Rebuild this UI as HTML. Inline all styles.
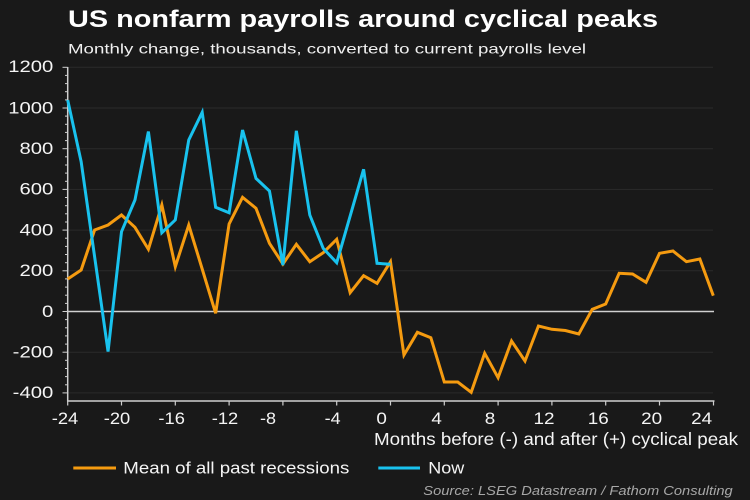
<!DOCTYPE html>
<html>
<head>
<meta charset="utf-8">
<style>
  html, body { margin:0; padding:0; background:#191919; }
  svg { display:block; }
  text { font-family: "Liberation Sans", Arial, sans-serif; }
</style>
</head>
<body>
<svg width="750" height="500" viewBox="0 0 750 500" xmlns="http://www.w3.org/2000/svg">
  <rect width="750" height="500" fill="#191919"/>

  <!-- Title & subtitle -->
  <text x="68" y="27" font-size="24" font-weight="bold" fill="#ffffff" textLength="590" lengthAdjust="spacingAndGlyphs">US nonfarm payrolls around cyclical peaks</text>
  <text x="68" y="53.3" font-size="14" fill="#f0f0f0" textLength="518" lengthAdjust="spacingAndGlyphs">Monthly change, thousands, converted to current payrolls level</text>

  <!-- Gridlines -->
  <g stroke="#2a2a2a" stroke-width="1">
    <line x1="68" y1="67.3" x2="713" y2="67.3"/>
    <line x1="68" y1="108" x2="713" y2="108"/>
    <line x1="68" y1="148.7" x2="713" y2="148.7"/>
    <line x1="68" y1="189.4" x2="713" y2="189.4"/>
    <line x1="68" y1="230.1" x2="713" y2="230.1"/>
    <line x1="68" y1="270.8" x2="713" y2="270.8"/>
    <line x1="68" y1="352.2" x2="713" y2="352.2"/>
    <line x1="68" y1="392.9" x2="713" y2="392.9"/>
  </g>
  <!-- Zero line -->
  <line x1="68" y1="311.5" x2="714" y2="311.5" stroke="#d0d0d0" stroke-width="1.6"/>

  <!-- Y axis -->
  <line x1="67.7" y1="67" x2="67.7" y2="401.5" stroke="#cfcfcf" stroke-width="1.5"/>
  <g stroke="#cfcfcf" stroke-width="1">
    <!-- major ticks -->
    <line x1="62.5" y1="67.3" x2="67.7" y2="67.3"/>
    <line x1="62.5" y1="108" x2="67.7" y2="108"/>
    <line x1="62.5" y1="148.7" x2="67.7" y2="148.7"/>
    <line x1="62.5" y1="189.4" x2="67.7" y2="189.4"/>
    <line x1="62.5" y1="230.1" x2="67.7" y2="230.1"/>
    <line x1="62.5" y1="270.8" x2="67.7" y2="270.8"/>
    <line x1="62.5" y1="311.5" x2="67.7" y2="311.5"/>
    <line x1="62.5" y1="352.2" x2="67.7" y2="352.2"/>
    <line x1="62.5" y1="392.9" x2="67.7" y2="392.9"/>
    <!-- minor ticks every 40 -->
    <line x1="65" y1="75.4" x2="67.7" y2="75.4"/>
    <line x1="65" y1="83.6" x2="67.7" y2="83.6"/>
    <line x1="65" y1="91.7" x2="67.7" y2="91.7"/>
    <line x1="65" y1="99.9" x2="67.7" y2="99.9"/>
    <line x1="65" y1="116.1" x2="67.7" y2="116.1"/>
    <line x1="65" y1="124.3" x2="67.7" y2="124.3"/>
    <line x1="65" y1="132.4" x2="67.7" y2="132.4"/>
    <line x1="65" y1="140.6" x2="67.7" y2="140.6"/>
    <line x1="65" y1="156.8" x2="67.7" y2="156.8"/>
    <line x1="65" y1="165" x2="67.7" y2="165"/>
    <line x1="65" y1="173.1" x2="67.7" y2="173.1"/>
    <line x1="65" y1="181.3" x2="67.7" y2="181.3"/>
    <line x1="65" y1="197.5" x2="67.7" y2="197.5"/>
    <line x1="65" y1="205.7" x2="67.7" y2="205.7"/>
    <line x1="65" y1="213.8" x2="67.7" y2="213.8"/>
    <line x1="65" y1="222" x2="67.7" y2="222"/>
    <line x1="65" y1="238.2" x2="67.7" y2="238.2"/>
    <line x1="65" y1="246.4" x2="67.7" y2="246.4"/>
    <line x1="65" y1="254.5" x2="67.7" y2="254.5"/>
    <line x1="65" y1="262.7" x2="67.7" y2="262.7"/>
    <line x1="65" y1="278.9" x2="67.7" y2="278.9"/>
    <line x1="65" y1="287.1" x2="67.7" y2="287.1"/>
    <line x1="65" y1="295.2" x2="67.7" y2="295.2"/>
    <line x1="65" y1="303.4" x2="67.7" y2="303.4"/>
    <line x1="65" y1="319.6" x2="67.7" y2="319.6"/>
    <line x1="65" y1="327.8" x2="67.7" y2="327.8"/>
    <line x1="65" y1="335.9" x2="67.7" y2="335.9"/>
    <line x1="65" y1="344.1" x2="67.7" y2="344.1"/>
    <line x1="65" y1="360.3" x2="67.7" y2="360.3"/>
    <line x1="65" y1="368.5" x2="67.7" y2="368.5"/>
    <line x1="65" y1="376.6" x2="67.7" y2="376.6"/>
    <line x1="65" y1="384.8" x2="67.7" y2="384.8"/>
  </g>

  <!-- Y labels -->
  <g font-size="17" fill="#f5f5f5" text-anchor="end">
    <text x="53.3" y="72" textLength="45" lengthAdjust="spacingAndGlyphs">1200</text>
    <text x="53.3" y="113.3" textLength="45" lengthAdjust="spacingAndGlyphs">1000</text>
    <text x="53.3" y="154" textLength="33.8" lengthAdjust="spacingAndGlyphs">800</text>
    <text x="53.3" y="194.7" textLength="33.8" lengthAdjust="spacingAndGlyphs">600</text>
    <text x="53.3" y="235.4" textLength="33.8" lengthAdjust="spacingAndGlyphs">400</text>
    <text x="53.3" y="276.1" textLength="33.8" lengthAdjust="spacingAndGlyphs">200</text>
    <text x="53.3" y="316.8" textLength="11.3" lengthAdjust="spacingAndGlyphs">0</text>
    <text x="53.3" y="357.5" textLength="40.6" lengthAdjust="spacingAndGlyphs">-200</text>
    <text x="53.3" y="398.2" textLength="40.6" lengthAdjust="spacingAndGlyphs">-400</text>
  </g>

  <!-- X axis -->
  <line x1="67" y1="401" x2="714.5" y2="401" stroke="#cfcfcf" stroke-width="1.5"/>
  <g stroke="#cfcfcf" stroke-width="1.2">
    <line x1="67.7" y1="401" x2="67.7" y2="405.5"/>
    <line x1="121.5" y1="401" x2="121.5" y2="405.5"/>
    <line x1="175.3" y1="401" x2="175.3" y2="405.5"/>
    <line x1="229.1" y1="401" x2="229.1" y2="405.5"/>
    <line x1="282.9" y1="401" x2="282.9" y2="405.5"/>
    <line x1="336.7" y1="401" x2="336.7" y2="405.5"/>
    <line x1="390.5" y1="401" x2="390.5" y2="405.5"/>
    <line x1="444.3" y1="401" x2="444.3" y2="405.5"/>
    <line x1="498.1" y1="401" x2="498.1" y2="405.5"/>
    <line x1="551.9" y1="401" x2="551.9" y2="405.5"/>
    <line x1="605.7" y1="401" x2="605.7" y2="405.5"/>
    <line x1="659.5" y1="401" x2="659.5" y2="405.5"/>
    <line x1="713.5" y1="401" x2="713.5" y2="405.5"/>
  </g>

  <!-- X labels -->
  <g font-size="17" fill="#f5f5f5" text-anchor="middle">
    <text x="65" y="424" textLength="26.5" lengthAdjust="spacingAndGlyphs">-24</text>
    <text x="117" y="424" textLength="26.5" lengthAdjust="spacingAndGlyphs">-20</text>
    <text x="171.7" y="424" textLength="26.5" lengthAdjust="spacingAndGlyphs">-16</text>
    <text x="225" y="424" textLength="26.5" lengthAdjust="spacingAndGlyphs">-12</text>
    <text x="268" y="424" textLength="16" lengthAdjust="spacingAndGlyphs">-8</text>
    <text x="332.7" y="424" textLength="16" lengthAdjust="spacingAndGlyphs">-4</text>
    <text x="381.7" y="424" textLength="10.5" lengthAdjust="spacingAndGlyphs">0</text>
    <text x="436.7" y="424" textLength="10.5" lengthAdjust="spacingAndGlyphs">4</text>
    <text x="490" y="424" textLength="10.5" lengthAdjust="spacingAndGlyphs">8</text>
    <text x="544" y="424" textLength="21" lengthAdjust="spacingAndGlyphs">12</text>
    <text x="598.3" y="424" textLength="21" lengthAdjust="spacingAndGlyphs">16</text>
    <text x="651.7" y="424" textLength="21" lengthAdjust="spacingAndGlyphs">20</text>
    <text x="701.7" y="424" textLength="21" lengthAdjust="spacingAndGlyphs">24</text>
  </g>
  <text x="374" y="445" font-size="17.5" fill="#f5f5f5" textLength="364" lengthAdjust="spacingAndGlyphs">Months before (-) and after (+) cyclical peak</text>

  <!-- Orange series: mean of past recessions -->
  <polyline fill="none" stroke="#f59b10" stroke-width="3" stroke-linejoin="miter" stroke-miterlimit="4"
    points="67.7,279 81.15,270 94.6,230 108.05,225 121.5,215 134.95,227.3 148.4,249.3 161.85,205 175.3,266.7 188.75,225 202.2,269 215.65,313.3 229.1,224 242.55,197.3 256,208.3 269.45,243.3 282.9,264 296.35,244.3 309.8,261.7 323.25,252.7 336.7,239.3 350.15,292.7 363.6,275.7 377.05,283.3 390.5,261.7 403.95,355 417.4,332.3 430.85,337.7 444.3,382 457.75,382 471.2,392.3 484.65,353.3 498.1,377.7 511.55,341 525,361 538.45,326 551.9,329.3 565.35,330.5 578.8,334 592.25,309.3 605.7,304 619.15,273.3 632.6,274 646.05,282.3 659.5,253.3 672.95,251 686.4,261.7 699.85,259 713.3,295.7"/>

  <!-- Blue series: now -->
  <polyline fill="none" stroke="#19c2ee" stroke-width="3" stroke-linejoin="miter" stroke-miterlimit="4"
    points="67.7,100.1 81.15,161.7 108.05,351.6 121.5,231.7 134.95,200 148.4,131.6 161.85,232.7 175.3,219.9 188.75,140 202.2,112.3 215.65,207.3 229.1,212.8 242.55,130 256,178.4 269.45,191 282.9,265.1 296.35,130.8 309.8,215 323.25,248.4 336.7,262.7 363.6,169.3 377.05,263.3 390.5,264.3"/>

  <!-- Legend -->
  <line x1="73.3" y1="468" x2="116" y2="468" stroke="#f59b10" stroke-width="3"/>
  <text x="123.3" y="473.3" font-size="17" fill="#f5f5f5" textLength="226" lengthAdjust="spacingAndGlyphs">Mean of all past recessions</text>
  <line x1="378.3" y1="468" x2="420" y2="468" stroke="#19c2ee" stroke-width="3"/>
  <text x="428.3" y="473.3" font-size="17" fill="#f5f5f5" textLength="36" lengthAdjust="spacingAndGlyphs">Now</text>

  <!-- Source -->
  <text x="423.3" y="495" font-size="13" font-style="italic" fill="#a8a8a8" textLength="309.4" lengthAdjust="spacingAndGlyphs">Source: LSEG Datastream / Fathom Consulting</text>
</svg>
</body>
</html>
